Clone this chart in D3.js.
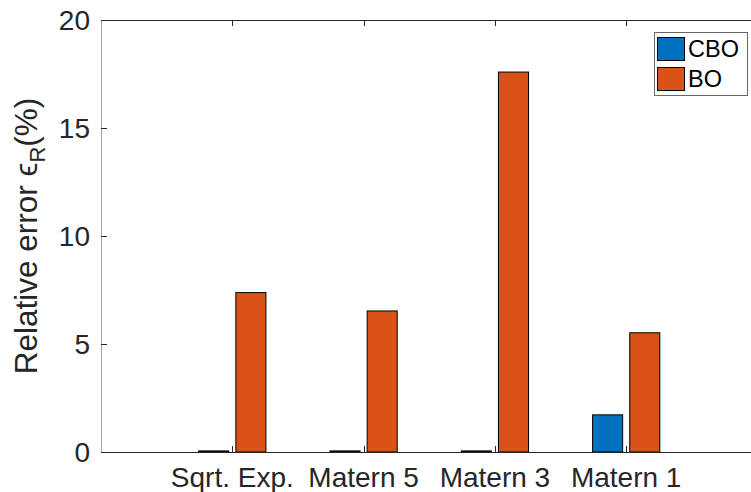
<!DOCTYPE html>
<html>
<head>
<meta charset="utf-8">
<script src="https://cdn.jsdelivr.net/npm/d3@7"></script>
<style>
  body { margin: 0; background: #fff; }
  svg { display: block; font-family: "Liberation Sans", Arial, sans-serif; }
</style>
</head>
<body>
<div id="chart"></div>
<script>
// data
var categories = ["Sqrt. Exp.", "Matern 5", "Matern 3", "Matern 1"];
var seriesNames = ["CBO", "BO"];
var cboValues = [0.05, 0.05, 0.05, 1.72];
var boValues = [7.38, 6.53, 17.59, 5.52];
var yTicks = [0, 5, 10, 15, 20];

var colors = ["#0072BD", "#D95319"];
var W = 751, H = 492;
var plotLeft = 101, plotTop = 20, plotBottom = 452;

var svg = d3.select("#chart").append("svg")
    .attr("width", W).attr("height", H);

// axes limits like matlab: xlim [0 5], ylim [0 20]
var x = d3.scaleLinear().domain([0, 5]).range([plotLeft, plotLeft + 5 * 131.3]);
var y = d3.scaleLinear().domain([0, 20]).range([plotBottom, plotTop]);

var offsets = [-0.1415, 0.1415];
var bw = 0.229;
var series = [cboValues, boValues];

series.forEach(function (vals, s) {
    svg.append("g").selectAll("rect")
        .data(vals)
        .enter().append("rect")
        .attr("x", function (d, i) { return x(i + 1 + offsets[s] - bw / 2); })
        .attr("width", function () { return x(bw) - x(0); })
        .attr("y", function (d) { return y(d); })
        .attr("height", function (d) { return y(0) - y(d); })
        .attr("fill", colors[s])
        .attr("stroke", "#000")
        .attr("stroke-width", 1);
});

// box lines (right side is off the page)
svg.append("line").attr("x1", plotLeft).attr("x2", W).attr("y1", plotTop + 0.5).attr("y2", plotTop + 0.5)
    .attr("stroke", "#262626");
svg.append("line").attr("x1", plotLeft).attr("x2", W).attr("y1", plotBottom + 0.5).attr("y2", plotBottom + 0.5)
    .attr("stroke", "#262626");
svg.append("line").attr("x1", plotLeft + 0.5).attr("x2", plotLeft + 0.5).attr("y1", plotTop).attr("y2", plotBottom)
    .attr("stroke", "#a6a6a6");

// y ticks, pointing in
var yg = svg.append("g");
yTicks.forEach(function (t) {
    yg.append("line").attr("x1", plotLeft).attr("x2", plotLeft + 6)
        .attr("y1", Math.round(y(t)) + 0.5).attr("y2", Math.round(y(t)) + 0.5)
        .attr("stroke", "#262626");
    yg.append("text").attr("x", plotLeft - 11).attr("y", y(t))
        .attr("dy", "0.36em").attr("text-anchor", "end")
        .attr("font-size", 28).attr("fill", "#262626").text(t);
});

// x ticks at categories, bottom and top
var xg = svg.append("g");
categories.forEach(function (c, i) {
    var px = Math.round(x(i + 1)) + 0.5;
    xg.append("line").attr("x1", px).attr("x2", px).attr("y1", plotBottom).attr("y2", plotBottom - 6)
        .attr("stroke", "#262626");
    xg.append("line").attr("x1", px).attr("x2", px).attr("y1", plotTop).attr("y2", plotTop + 6)
        .attr("stroke", "#262626");
    xg.append("text").attr("x", x(i + 1)).attr("y", 487)
        .attr("text-anchor", "middle").attr("font-size", 28).attr("fill", "#262626").text(c);
});

// y label
var yl = svg.append("text")
    .attr("transform", "translate(37," + (plotTop + plotBottom) / 2 + ") rotate(-90)")
    .attr("text-anchor", "middle").attr("font-size", 31.5).attr("fill", "#262626");
yl.append("tspan").text("Relative error \u03f5");
yl.append("tspan").attr("font-size", 22).attr("dy", 8).text("R");
yl.append("tspan").attr("dy", -8).text("(%)");

// legend
var lg = svg.append("g");
lg.append("rect").attr("x", 654.5).attr("y", 32.5).attr("width", 93).attr("height", 63)
    .attr("fill", "#fff").attr("stroke", "#262626").attr("stroke-opacity", 0.7);
seriesNames.forEach(function (n, i) {
    lg.append("rect").attr("x", 657.5).attr("y", 37.5 + i * 30).attr("width", 27).attr("height", 23)
        .attr("fill", colors[i]).attr("stroke", "#000");
    lg.append("text").attr("x", 688).attr("y", 57 + i * 30)
        .attr("font-size", 23.5).attr("fill", "#000").text(n);
});
</script>
</body>
</html>
